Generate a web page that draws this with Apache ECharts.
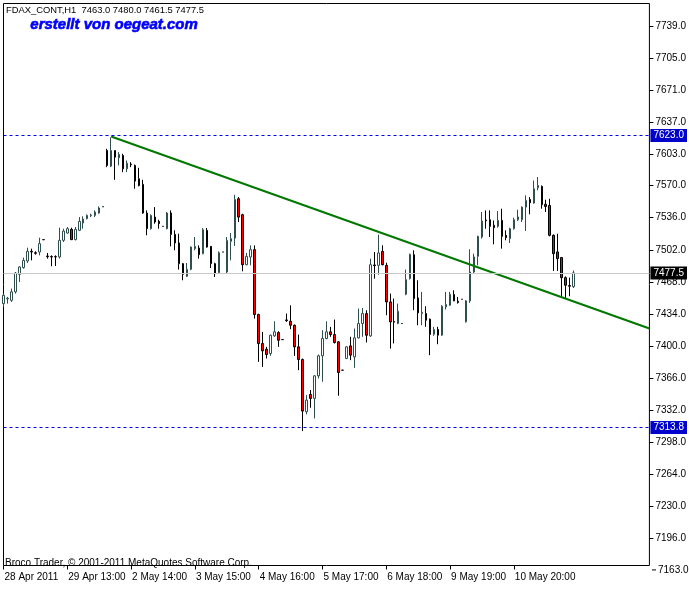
<!DOCTYPE html>
<html><head><meta charset="utf-8">
<script src="https://cdn.jsdelivr.net/npm/echarts@6/dist/echarts.min.js"></script>
<style>html,body{margin:0;padding:0;background:#fff}#c{width:689px;height:589px}</style>
</head><body><div id="c"></div>
<script>
// ---- data (FDAX_CONT, H1) ----
const openP = [7445.0,7450.0,7448.5,7457.4,7476.0,7483.1,7490.1,7500.4,7498.9,7499.6,7512.7,7495.4,7494.8,7494.7,7494.4,7512.0,7519.7,7523.6,7512.7,7522.6,
7530.3,7534.9,7538.1,7538.4,7540.9,7547.6,7607.1,7590.6,7607.1,7599.4,7601.8,7587.7,7592.7,7591.3,7577.2,7571.2,7540.9,7524.3,7536.6,7532.1,
7526.8,7524.3,7540.9,7518.3,7509.2,7487.3,7473.9,7481.3,7503.2,7503.8,7497.9,7522.5,7505.6,7487.3,7477.8,7499.6,7478.5,7510.9,7514.4,7556.0,
7539.1,7486.2,7494.3,7502.1,7433.4,7402.7,7396.7,7392.1,7410.8,7414.3,7406.9,7427.7,7426.3,7422.1,7399.2,7385.8,7330.5,7348.8,7344.6,7368.5,
7389.7,7408.0,7415.1,7412.2,7404.5,7374.5,7386.9,7400.2,7388.6,7408.7,7423.9,7434.4,7410.8,7485.9,7485.5,7500.3,7485.5,7446.8,7426.0,7423.9,
7423.9,7454.9,7471.5,7496.8,7451.0,7434.5,7434.5,7428.5,7412.6,7417.6,7411.6,7441.5,7443.3,7454.6,7447.5,7449.6,7425.7,7447.9,7478.5,7495.1,
7515.5,7533.5,7533.8,7527.9,7526.8,7533.1,7517.3,7513.8,7524.3,7533.8,7533.8,7547.2,7555.3,7551.5,7567.7,7569.1,7550.1,7549.0,7517.3,7499.7,
7493.7,7472.5,7464.1,7463.0];
const highP = [7455.6,7452.1,7460.9,7478.5,7484.5,7493.7,7504.2,7503.2,7500.4,7514.8,7512.7,7498.6,7496.1,7496.1,7525.4,7524.3,7526.1,7525.4,7526.1,7536.6,
7537.4,7539.5,7540.2,7543.7,7547.9,7547.6,7608.9,7621.0,7607.1,7605.4,7603.6,7596.6,7594.8,7592.3,7588.8,7576.1,7543.7,7539.5,7547.2,7533.8,
7526.8,7541.9,7543.7,7522.6,7519.0,7488.0,7488.0,7505.6,7515.5,7506.7,7525.0,7525.0,7506.0,7488.3,7500.3,7499.6,7515.5,7519.7,7560.2,7557.8,
7540.1,7498.6,7506.7,7506.7,7434.4,7415.1,7399.2,7412.2,7426.3,7415.8,7406.9,7434.4,7443.2,7422.8,7412.2,7386.9,7348.1,7353.4,7369.2,7391.1,
7416.8,7426.3,7420.3,7428.1,7405.2,7374.5,7399.9,7409.8,7418.6,7439.7,7440.4,7437.9,7492.6,7499.6,7518.0,7506.7,7488.3,7455.6,7450.3,7445.0,
7423.9,7481.0,7497.9,7501.4,7469.7,7457.4,7442.2,7429.2,7420.4,7420.4,7443.3,7457.4,7457.4,7459.1,7452.1,7449.6,7448.6,7502.5,7497.9,7516.9,
7542.0,7543.7,7543.7,7533.1,7543.0,7545.5,7522.6,7525.4,7536.0,7544.4,7547.9,7559.6,7557.8,7575.4,7579.0,7570.1,7555.0,7556.0,7518.3,7519.0,
7494.4,7473.9,7472.5,7480.0];
const lowP = [7441.5,7445.0,7446.8,7455.6,7467.9,7482.0,7488.0,7490.8,7496.8,7496.1,7512.7,7492.6,7484.5,7484.8,7492.6,7510.2,7519.0,7512.7,7512.0,7521.8,
7524.3,7534.2,7536.6,7536.6,7540.2,7547.6,7589.5,7589.5,7576.1,7591.3,7584.2,7584.2,7589.5,7566.6,7569.1,7540.2,7517.3,7523.3,7529.6,7524.3,
7526.8,7523.6,7505.6,7501.4,7481.0,7469.7,7473.2,7480.3,7501.4,7492.6,7497.2,7504.2,7482.7,7473.2,7476.7,7499.6,7476.7,7490.8,7506.0,7531.3,
7479.2,7485.5,7485.5,7429.1,7383.3,7378.0,7386.9,7389.7,7409.8,7399.2,7406.9,7425.6,7417.9,7389.7,7374.5,7310.0,7327.7,7334.7,7323.4,7365.7,
7362.2,7407.3,7409.8,7402.7,7347.4,7374.5,7386.2,7385.1,7377.0,7408.0,7409.8,7403.8,7409.8,7471.4,7475.7,7485.5,7432.7,7397.4,7402.8,7423.2,
7423.9,7453.9,7470.4,7438.0,7422.1,7422.1,7420.4,7390.4,7410.9,7402.0,7410.9,7438.7,7442.6,7447.5,7445.0,7449.6,7425.0,7445.7,7477.5,7485.6,
7513.8,7524.3,7515.5,7507.8,7525.4,7503.2,7512.0,7509.2,7523.3,7532.4,7531.4,7521.9,7539.5,7550.8,7564.9,7545.5,7542.0,7516.2,7479.6,7479.6,
7452.1,7450.3,7452.8,7461.5];
const closeP = [7453.8,7450.7,7457.4,7477.4,7483.8,7490.8,7500.4,7499.6,7498.2,7508.5,7512.7,7494.7,7494.4,7494.4,7512.0,7521.8,7524.3,7512.7,7523.6,7532.1,
7534.5,7538.4,7538.8,7541.9,7546.2,7547.6,7591.3,7607.1,7600.1,7602.9,7587.7,7593.7,7592.0,7574.7,7570.1,7540.9,7524.3,7538.4,7531.4,7529.6,
7526.8,7540.9,7518.3,7509.2,7487.3,7476.0,7481.3,7504.9,7505.6,7496.8,7523.2,7504.9,7487.3,7476.7,7498.9,7499.6,7511.9,7513.7,7555.3,7536.6,
7486.2,7495.0,7502.1,7433.4,7402.7,7395.0,7391.1,7411.5,7415.1,7406.2,7406.9,7427.0,7422.1,7399.2,7385.8,7331.2,7342.8,7344.6,7368.5,7389.7,
7408.0,7415.1,7412.2,7403.8,7372.0,7374.5,7399.2,7390.4,7408.7,7423.9,7434.4,7411.5,7486.2,7485.2,7498.6,7486.2,7446.8,7425.6,7425.3,7436.9,
7423.9,7470.4,7497.2,7450.3,7435.2,7435.9,7427.4,7412.3,7417.6,7411.6,7442.2,7444.0,7454.9,7447.9,7446.1,7449.6,7447.9,7478.5,7494.4,7516.2,
7532.4,7532.8,7526.8,7525.4,7533.1,7516.2,7514.8,7524.3,7533.8,7536.7,7547.2,7554.3,7551.8,7566.6,7570.1,7549.7,7547.9,7517.3,7497.9,7492.6,
7472.5,7464.4,7463.4,7477.5];
const tradingDays = ['28 Apr','29 Apr','2 May','3 May','4 May','5 May','6 May','9 May','10 May','11 May','12 May'];
const xTickLabels = ['28 Apr 2011','29 Apr 13:00','2 May 14:00','3 May 15:00','4 May 16:00','5 May 17:00','6 May 18:00','9 May 19:00','10 May 20:00'];
const yTickLabels = [7739.0,7705.0,7671.0,7637.0,7603.0,7570.0,7536.0,7502.0,7468.0,7434.0,7400.0,7366.0,7332.0,7298.0,7264.0,7230.0,7196.0];
const yBottomLabel = 7163.0;
const levelLines = [7623.0, 7313.8];
const bidPrice = 7477.5;
const trendLine = [[27, 7622.0], [162, 7418.6]];
const titleText = 'FDAX_CONT,H1  7463.0 7480.0 7461.5 7477.5';

// categories: hourly bars 08:00-22:00, starting 28 Apr 12:00, 163 slots
const categories = [];
(function(){
  let d = 0, h = 12;
  for (let i = 0; i < 163; i++) {
    categories.push(tradingDays[d] + ' ' + (h < 10 ? '0' : '') + h + ':00');
    h++; if (h > 22) { h = 8; d++; }
  }
})();
const candles = openP.map((o, i) => [o, closeP[i], lowP[i], highP[i]]);
const LABEL_STEP = 16;
const showTick = idx => idx % LABEL_STEP === 0 && idx / LABEL_STEP < xTickLabels.length;

const FONT = 'Liberation Sans';
const tag = (txt, bg) => ({show: true, position: 'end', distance: 1, formatter: txt, color: '#fff', backgroundColor: bg,
  padding: [2, 3, 1, 3], fontSize: 10, fontFamily: FONT});
const chart = echarts.init(document.getElementById('c'), null, {renderer: 'canvas', devicePixelRatio: 1});
chart.setOption({
  animation: false,
  backgroundColor: '#fff',
  grid: {left: 3.5, right: 37.5, top: 3.5, bottom: 23.5, show: true, borderColor: '#000', borderWidth: 1, backgroundColor: '#fff'},
  xAxis: {
    type: 'category', data: categories, boundaryGap: false,
    axisLine: {show: false},
    axisTick: {show: true, interval: showTick, length: 4, lineStyle: {color: '#000', width: 1}},
    axisLabel: {interval: showTick, align: 'left', margin: 7, padding: [0, 0, 0, 1], fontSize: 10, fontFamily: FONT, color: '#000',
      formatter: (v, idx) => xTickLabels[idx / LABEL_STEP] || ''},
    splitLine: {show: false}
  },
  yAxis: {
    type: 'value', position: 'right', min: 7167.67, max: 7762.78, scale: true,
    axisLine: {show: false},
    axisTick: {show: true, length: 4, customValues: yTickLabels, lineStyle: {color: '#000'}},
    axisLabel: {customValues: yTickLabels, margin: 6, fontSize: 10, fontFamily: FONT, color: '#000', formatter: v => v.toFixed(1)},
    splitLine: {show: false}
  },
  series: [
    {
      type: 'candlestick', data: candles, barWidth: 2,
      itemStyle: {color: '#ffffff', color0: '#ff0000', borderColor: '#2f4f4f', borderColor0: '#000000', borderColorDoji: '#000000', borderWidth: 1},
      markLine: {
        silent: true, symbol: 'none', animation: false,
        lineStyle: {color: '#0000ff', type: [3, 3], width: 1},
        data: [
          {yAxis: levelLines[0], lineStyle: {color: '#0000ff', type: [3, 3], width: 1}, label: tag(levelLines[0].toFixed(1), '#0000cc')},
          {yAxis: levelLines[1], lineStyle: {color: '#0000ff', type: [3, 3], width: 1}, label: tag(levelLines[1].toFixed(1), '#0000cc')},
          {yAxis: bidPrice, lineStyle: {color: '#c8c8c8', type: 'solid', width: 1}, label: tag(bidPrice.toFixed(1), '#000')}
        ]
      },
      z: 3
    },
    {
      type: 'line', data: trendLine, symbol: 'none', lineStyle: {color: '#007800', width: 2}, z: 4, silent: true
    }
  ]
});
const yb = chart.convertToPixel({yAxisIndex: 0}, yBottomLabel);
chart.setOption({
  graphic: [
    {type: 'text', left: 6, top: 6, style: {text: titleText, font: '9.4px "' + FONT + '"', fill: '#000'}},
    {type: 'text', left: 30, top: 17, style: {text: 'erstellt von oegeat.com', font: 'italic bold 15px "' + FONT + '"', fill: '#0000ff', stroke: '#0000ff', lineWidth: 0.6}},
    {type: 'text', left: 5, top: 558, style: {text: 'Broco Trader, \u00a9 2001-2011 MetaQuotes Software Corp.', font: '10px "' + FONT + '"', fill: '#000'}},
    {type: 'line', shape: {x1: 652, y1: yb, x2: 656, y2: yb}, style: {stroke: '#000', lineWidth: 1}},
    {type: 'text', x: 658, y: yb, style: {text: yBottomLabel.toFixed(1), font: '10px "' + FONT + '"', fill: '#000', verticalAlign: 'middle'}}
  ]
});
</script></body></html>
